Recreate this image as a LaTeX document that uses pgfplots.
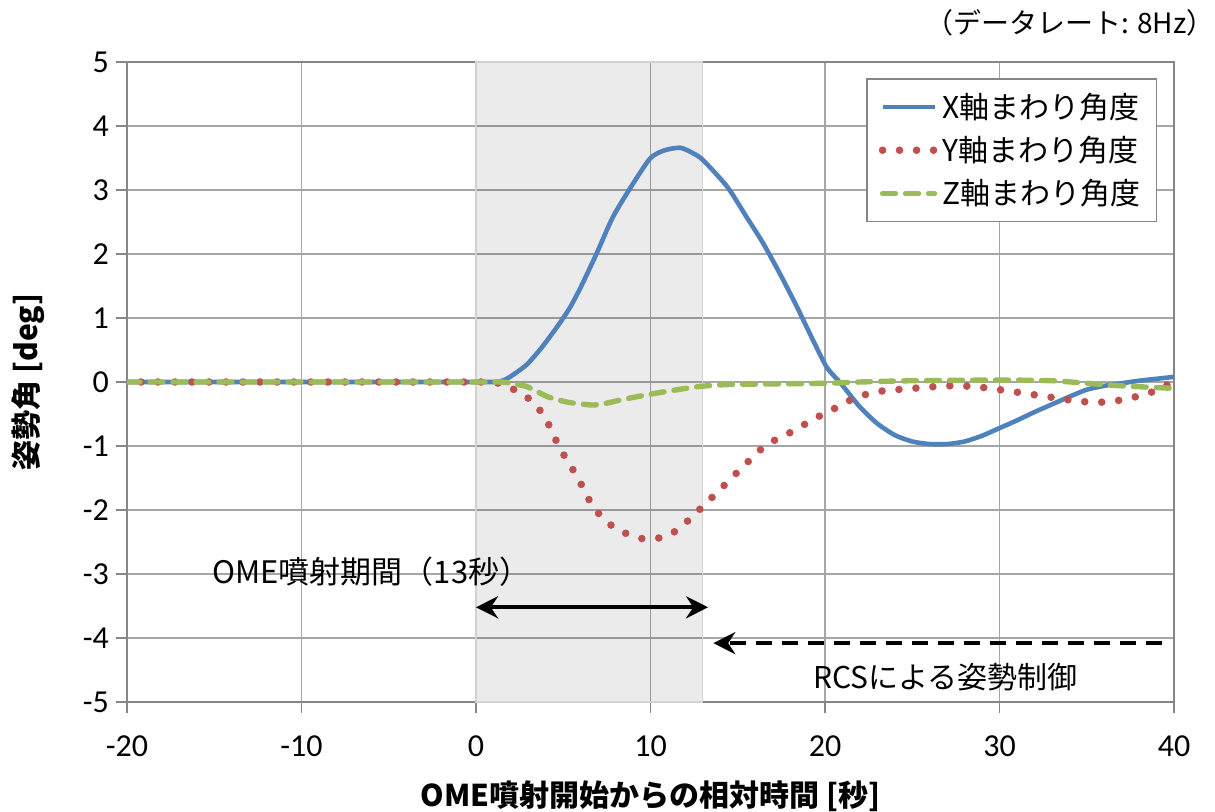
\documentclass[border=0pt]{standalone}
\usepackage{fontspec}
\setmainfont{Carlito}
\newfontfamily\jp{Noto Sans CJK JP}
\usepackage{pgfplots}
\pgfplotsset{compat=1.18}
\usetikzlibrary{arrows.meta}
\definecolor{xblue}{HTML}{4F81BD}
\definecolor{yred}{HTML}{C0504D}
\definecolor{zgreen}{HTML}{9BBB59}
\definecolor{gridc}{HTML}{A6A6A6}
\definecolor{axc}{HTML}{868686}
\begin{document}
\begin{tikzpicture}
\useasboundingbox (-63.5pt,-54.5pt) rectangle (544pt,351pt);
\begin{axis}[
  at={(0pt,0pt)}, anchor=south west,
  scale only axis, width=523.5pt, height=320pt,
  xmin=-20, xmax=40, ymin=-5, ymax=5,
  xtick={-20,-10,0,10,20,30,40}, ytick={-5,-4,-3,-2,-1,0,1,2,3,4,5},
  grid=major, major grid style={gridc, line width=0.8pt},
  axis line style={axc, line width=0.8pt},
  tick style={axc, line width=0.8pt},
  tick align=outside, major tick length=5.5pt, tick pos=left,
  ticklabel style={font=\fontsize{16}{19}\selectfont},
  xticklabel style={yshift=-8pt},
  /pgf/number format/assume math mode=true,
  xlabel={\jp\bfseries OME噴射開始からの相対時間 [秒]},
  ylabel={\jp\bfseries 姿勢角 [deg]},
  label style={font=\jp\bfseries\fontsize{15}{18}\selectfont},
  xlabel style={at={([yshift=-47pt]axis description cs:0.5,0)}, anchor=center},
  ylabel style={at={([xshift=-49.5pt]axis description cs:0,0.5)}, anchor=center},
  legend style={at={(rel axis cs:0.984,0.975)}, anchor=north east, draw=axc, line width=0.8pt,
    fill=white, font=\jp\fontsize{15}{18}\selectfont, row sep=3.5pt, inner xsep=6pt, inner ysep=5pt},
  legend cell align=left,
  legend image code/.code={\draw[#1] (0pt,0pt) -- (26pt,0pt);},
]
% OME burn period shading
\addplot[forget plot, draw=gray!35, line width=0.6pt, fill=black, fill opacity=0.08]
  coordinates {(0,-5) (0,5) (13,5) (13,-5)} -- cycle;

% X axis angle
\addplot[xblue, line width=2.3pt, smooth, tension=0.4] coordinates {
(-20,0) (-10,0) (0,0) (1,0) (1.5,0.02) (1.95,0.08) (2.9,0.27) (3.8,0.55) (4.8,0.92)
(5.4,1.17) (6,1.48) (6.9,2.0) (7.85,2.58) (9,3.1) (10,3.5) (10.8,3.62) (11.7,3.66)
(12.4,3.58) (13,3.47) (14.4,3.05) (15.5,2.58) (16.45,2.17) (17.4,1.7) (18.4,1.17)
(19.3,0.66) (20.1,0.23) (20.9,-0.02) (22,-0.39) (23,-0.65) (24,-0.83) (25,-0.93)
(26,-0.97) (27,-0.97) (28,-0.93) (29,-0.84) (30,-0.72) (31,-0.6) (32,-0.47) (33,-0.35)
(34,-0.23) (35,-0.12) (36,-0.06) (37,-0.02) (38,0.02) (39,0.05) (40,0.08)};
\addlegendentry{X軸まわり角度}

% Y axis angle
\addplot[yred, line width=3.8pt, line cap=round, dash pattern=on 0pt off 8.5pt, smooth, tension=0.4] coordinates {
(-19.2,0) (-10,0) (0,0) (1,0) (1.8,-0.07) (2.6,-0.18) (3.2,-0.3) (3.95,-0.55) (4.8,-1.03)
(5.8,-1.48) (6.7,-1.95) (7.4,-2.15) (8.1,-2.31) (9.4,-2.44) (10,-2.45) (10.8,-2.42)
(11.6,-2.3) (12.4,-2.1) (13.8,-1.73) (15.2,-1.35) (16.5,-1.01) (17.4,-0.87) (18.3,-0.75)
(19.2,-0.6) (20,-0.49) (21,-0.35) (21.7,-0.25) (23,-0.15) (25,-0.1) (27,-0.06)
(28.5,-0.07) (30,-0.12) (32,-0.2) (34,-0.28) (35.5,-0.32) (37,-0.28) (38.5,-0.18)
(39.5,-0.06) (40,0.02)};
\addlegendentry{Y軸まわり角度}

% Z axis angle
\addplot[zgreen, line width=2.7pt, line cap=round, dash pattern=on 6.5pt off 5pt, smooth, tension=0.4] coordinates {
(-20,0) (-10,0) (0,0) (1.5,0) (2.2,-0.03) (2.9,-0.07) (3.5,-0.15) (4.1,-0.23) (5,-0.3)
(5.6,-0.33) (6.7,-0.36) (7.5,-0.33) (8.3,-0.28) (9.8,-0.2) (11.3,-0.13) (12.8,-0.07)
(14.4,-0.04) (17,-0.03) (20,-0.02) (22,0) (25,0.02) (30,0.03) (33,0.02) (35,-0.02)
(37,-0.06) (40,-0.1)};
\addlegendentry{Z軸まわり角度}

\draw[line width=1.8pt, {Stealth[length=11pt,width=11pt]}-{Stealth[length=11pt,width=11pt]}]
  (axis cs:0,-3.52) -- (axis cs:13.3,-3.52);
\node[font=\jp\fontsize{15.5}{18}\selectfont] at (axis cs:-6.0,-2.97) {OME噴射期間（13秒）};
\draw[line width=1.8pt, dash pattern=on 8pt off 5pt, -{Stealth[length=11pt,width=11pt]}]
  (axis cs:39.3,-4.08) -- (axis cs:13.6,-4.08);
\node[font=\jp\fontsize{15}{18}\selectfont] at (axis cs:26.9,-4.61) {RCSによる姿勢制御};
\end{axis}
\node[anchor=east, inner sep=0pt, font=\jp\fontsize{14}{16}\selectfont] at (544pt,339.5pt) {（データレート: 8Hz）};
\end{tikzpicture}
\end{document}
